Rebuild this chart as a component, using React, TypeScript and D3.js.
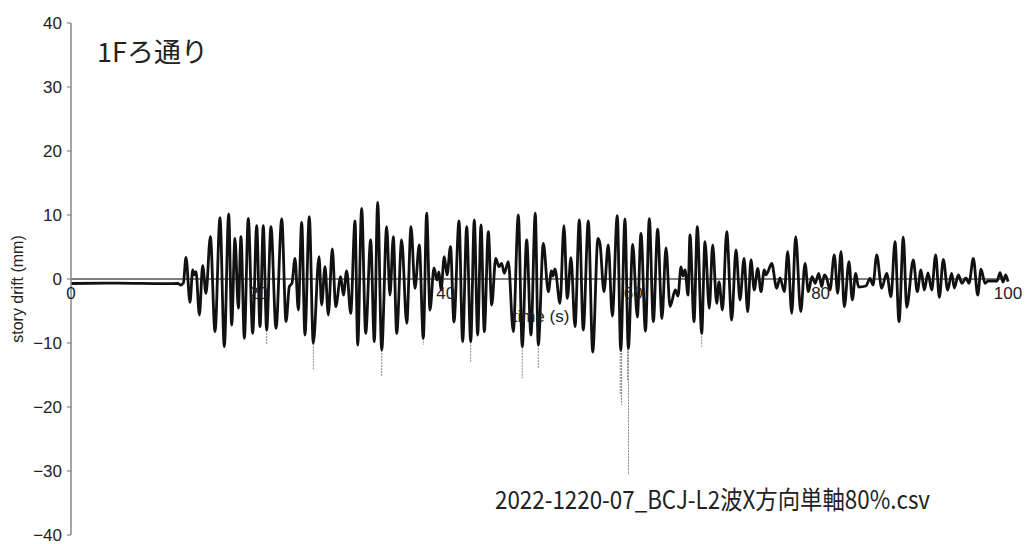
import React from 'react';
import * as d3 from 'd3';

// time (s) of each read extremum / bend of the main (black) drift trace
const times: number[] = [
  0, 5, 10, 11.4, 11.7, 12.0, 12.27, 12.70, 12.99, 13.13, 13.34, 13.70, 14.05, 14.41, 14.87, 15.37, 15.90, 16.36, 16.83, 17.15,
  17.50, 17.86, 18.14, 18.50, 18.92, 19.39, 19.82, 20.17, 20.52, 20.88, 21.34, 21.88, 22.49, 22.95, 23.30, 23.58, 23.91, 24.26,
  24.62, 24.97, 25.43, 25.86, 26.47, 26.75, 27.11, 27.46, 27.89, 28.25, 28.78, 29.07, 29.42, 29.85, 30.31, 30.60, 31.02, 31.45,
  31.98, 32.37, 32.73, 33.16, 33.69, 34.04, 34.40, 34.76, 35.29, 35.83, 36.29, 36.71, 37.17, 37.60, 37.96, 38.31, 38.74, 39.06,
  39.27, 39.49, 39.84, 40.13, 40.50, 40.87, 41.41, 41.80, 42.23, 42.66, 43.04, 43.40, 43.76, 44.11, 44.54, 44.90, 45.33, 45.68,
  45.96, 46.24, 46.67, 47.20, 47.74, 48.16, 48.63, 49.09, 49.55, 49.87, 50.41, 50.94, 51.28, 51.44, 51.65, 52.19, 52.61, 52.97,
  53.36, 53.79, 54.25, 54.67, 55.21, 55.68, 56.24, 56.46, 56.88, 57.34, 57.77, 58.30, 58.67, 59.12, 59.48, 59.95, 60.44, 60.83,
  61.31, 61.72, 62.15, 62.61, 63.07, 63.50, 63.93, 64.50, 64.78, 65.10, 65.31, 65.53, 65.85, 66.06, 66.49, 66.84, 67.31, 67.66,
  68.12, 68.48, 68.91, 69.16, 69.53, 69.98, 70.51, 70.97, 71.40, 71.83, 72.22, 72.57, 72.92, 73.29, 73.64, 73.99, 74.17, 74.39,
  74.78, 75.31, 75.67, 76.13, 76.49, 76.92, 77.34, 77.88, 78.34, 78.69, 79.08, 79.43, 79.80, 80.12, 80.40, 80.65, 81.00, 81.46,
  81.82, 82.18, 82.53, 83.03, 83.38, 83.75, 84.04, 84.84, 85.27, 85.59, 85.99, 86.52, 87.05, 87.51, 87.94, 88.37, 88.83, 89.19,
  89.89, 90.32, 90.71, 91.07, 91.46, 91.86, 92.28, 92.67, 93.10, 93.56, 93.99, 94.27, 94.70, 95.09, 95.52, 95.84, 96.30, 96.77,
  97.12, 97.55, 97.87, 98.83, 99.15, 99.47, 99.75, 100.0,
];

// story drift (mm) at those times
const drift: number[] = [
  -0.7, -0.65, -0.72, -0.7, -0.95, -0.6, 3.39, -3.64, 1.41, 0.63, 1.15, -5.63, 2.08, -2.24, 6.61, -8.23, 9.58, -10.57, 10.16, -7.19,
  6.35, -4.58, 6.61, -9.27, 9.48, -8.49, 8.33, -7.45, 8.33, -7.97, 8.18, -7.71, 9.38, -6.67, -1.2, -0.68, 3.23, -4.84,
  8.85, -8.75, 9.74, -10.05, 3.49, -4.06, 1.93, -5.63, 4.69, -4.32, 0.36, -2.5, 1.25, -5.36, 9.06, -10.31, 11.05, -8.48,
  6.09, -9.80, 11.98, -11.09, 8.17, -2.5, 6.61, -8.48, 6.09, -6.92, 8.17, -1.45, 5.31, -9.27, 10.27, -4.84, 1.72, -0.16,
  1.09, -1.72, 3.48, 0.63, 5.05, -6.72, 9.06, -9.80, 8.17, -9.80, 9.22, -8.75, 8.44, -8.23, 7.39, -4.06, 3.23, 1.92,
  2.45, 0.89, 2.70, -8.23, 10.0, -10.58, 6.09, -8.75, 10.27, -10.31, 5.58, -1.98, 1.25, 0.47, 1.56, -3.80, 8.33, -3.02,
  3.33, -7.45, 9.22, -7.97, 9.06, -11.41, 6.36, 5.47, -1.98, 5.31, -5.78, 9.89, -11.09, 9.38, -10.83, 5.42, -5.94, 7.14,
  -8.13, 9.42, -6.64, 7.78, -6.17, 4.84, -4.30, -1.72, -2.66, 1.88, 0.47, 1.41, -2.5, 6.88, -6.67, 8.17, -8.48, 5.83,
  -4.58, 5.31, -3.80, -0.47, -4.84, 7.39, -6.41, 4.53, -3.28, 3.23, -5.11, 2.97, -1.72, 1.67, -1.98, 1.41, 0.63, 1.17,
  2.45, -1.45, 0.16, -1.98, 4.27, -5.36, 6.61, -5.11, 2.45, -1.98, 0.36, -0.67, 0.89, -1.2, 0.63, 0.11, -1.72, 3.75,
  -2.23, 4.27, -4.33, 2.70, -3.28, 0.89, -1.25, -1.09, 0.11, -0.94, 3.75, -1.45, 0.89, -2.77, 5.83, -6.67, 6.52, -4.42,
  2.97, -1.98, 1.41, -1.72, 0.94, -1.72, 3.75, -2.86, 3.08, -1.72, 0.89, -1.41, 0.63, -0.67, 0.16, -0.67, 3.23, -2.5,
  1.52, -0.67, -0.31, -0.31, 0.98, -0.47, 0.63, -0.42,
];

// second (grey, dotted) trace: only its narrow downward spikes show below the black trace
const spikeTimes: number[] = [20.88, 25.86, 33.16, 37.60, 42.66, 48.16, 49.87, 58.62, 58.75, 59.40, 59.50, 67.31];
const spikeValues: number[] = [-10.3, -14.2, -15.3, -10.3, -12.9, -15.5, -14.0, -18.1, -19.7, -16.0, -30.6, -10.6];

const xTicks: number[] = [0, 20, 40, 60, 80, 100];
const yTicks: number[] = [-40, -30, -20, -10, 0, 10, 20, 30, 40];

const titleText = '1Fろ通り';
const fileText = '2022-1220-07_BCJ-L2波X方向単軸80%.csv';
const xLabel = 'time (s)';
const yLabel = 'story drift (mm)';

export default function App() {
  const W = 1025;
  const H = 544;
  const x = d3.scaleLinear().domain([0, 100]).range([71, 1008]);
  const y = d3.scaleLinear().domain([-40, 40]).range([535, 23]);
  const pts: [number, number][] = times.map((t, i) => [t, drift[i]]);
  const line = d3
    .line<[number, number]>()
    .x((d) => x(d[0]))
    .y((d) => y(d[1]))
    .curve(d3.curveMonotoneX);
  const fmt = d3.format('d');
  const sans = "'Liberation Sans', Arial, 'DejaVu Sans', sans-serif";
  const jp = "'Noto Sans CJK JP', sans-serif";

  const spikeStart = (t: number) => {
    let best = 0;
    let bd = Infinity;
    pts.forEach((p) => {
      const d = Math.abs(p[0] - t);
      if (d < bd) {
        bd = d;
        best = p[1];
      }
    });
    return Math.min(best, -3);
  };

  return (
    <svg
      width={W}
      height={H}
      style={{ position: 'absolute', left: 0, top: 0, background: '#fff' }}
      xmlns="http://www.w3.org/2000/svg"
    >
      <rect x={0} y={0} width={W} height={H} fill="#fff" />
      {/* zero line (x axis) */}
      <line x1={x(0)} x2={x(100)} y1={y(0)} y2={y(0)} stroke="#000" strokeWidth={1} />
      {/* grey spikes */}
      {spikeTimes.map((t, i) => (
        <line
          key={'s' + i}
          x1={x(t)}
          x2={x(t)}
          y1={y(spikeStart(t))}
          y2={y(spikeValues[i])}
          stroke="#8a8a8a"
          strokeWidth={1}
          strokeDasharray="2,1"
        />
      ))}
      {/* main trace */}
      <path d={line(pts) || ''} fill="none" stroke="#111" strokeWidth={2.8} strokeLinejoin="round" />
      {/* y axis */}
      <line x1={71} x2={71} y1={y(40)} y2={y(-40)} stroke="#888" strokeWidth={1.5} />
      {yTicks.map((v) => (
        <g key={'y' + v}>
          <line x1={67} x2={71} y1={y(v)} y2={y(v)} stroke="#888" strokeWidth={1.2} />
          <text x={62} y={y(v)} dy="0.36em" textAnchor="end" fontSize={17} fontFamily={sans} fill="#222">
            {fmt(v)}
          </text>
        </g>
      ))}
      {/* x tick labels */}
      {xTicks.map((v) => (
        <text key={'x' + v} x={x(v)} y={y(0) + 20} textAnchor="middle" fontSize={17} fontFamily={sans} fill="#222">
          {fmt(v)}
        </text>
      ))}
      <text x={541} y={322} textAnchor="middle" fontSize={17} fontFamily={sans} fill="#222">
        {xLabel}
      </text>
      <text
        transform="translate(23,289) rotate(-90)"
        textAnchor="middle"
        fontSize={16}
        fontFamily={sans}
        fill="#222"
      >
        {yLabel}
      </text>
      <text x={97} y={62} fontSize={27} fontFamily={jp} fill="#222">
        {titleText}
      </text>
      <text
        x={495}
        y={509}
        fontSize={25}
        fontFamily={jp}
        fill="#222"
        textLength={435}
        lengthAdjust="spacingAndGlyphs"
      >
        {fileText}
      </text>
    </svg>
  );
}
